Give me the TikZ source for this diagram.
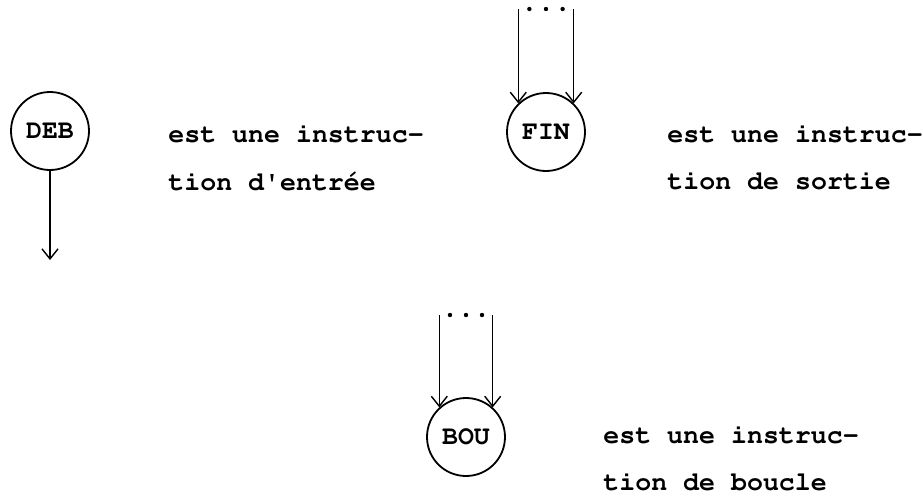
\documentclass[tikz,border=0pt]{standalone}
\usepackage[T1]{fontenc}
\renewcommand{\ttdefault}{pcr}
\usetikzlibrary{arrows.meta,calc}

\tikzset{
  instr/.style={circle, draw, line width=0.9pt, minimum size=39pt, inner sep=0pt,
    font=\ttfamily\bfseries\fontsize{13.3}{16}\selectfont},
  txt/.style={anchor=base west, inner sep=0pt, font=\ttfamily\bfseries\fontsize{13.3}{16}\selectfont},
  flow/.style={line width=0.7pt, -{Straight Barb[length=5pt,width=8pt]}},
  etc/.style={fill=black},
}

\begin{document}
\begin{tikzpicture}[x=0.5pt,y=-0.5pt]
    \useasboundingbox (0,0) rectangle (923,499);

    % Entry instruction: one arrow leaving the circle
    \node[instr] (deb) at (50,131) {DEB};
    \coordinate (debout) at (50,260);
    \draw[flow] (deb.south) -- (debout);
    \node[txt] (deb1) at (168,142) {est une instruc-};
    \node[txt] (deb2) at (168,190) {tion d\textquotesingle entr\'ee};

    % Exit instruction: several arrows coming in
    \node[instr] (fin) at (546,132) {FIN};
    \coordinate (finl) at (fin.134 |- 0,9);
    \coordinate (finr) at (fin.46 |- 0,9);
    \draw[flow] (finl) -- (fin.134);
    \draw[flow] (finr) -- (fin.46);
    \foreach \t in {0.2,0.5,0.8}
        \fill[etc] ($(finl)!\t!(finr)$) circle (1.1pt);
    \node[txt] (fin1) at (667,142) {est une instruc-};
    \node[txt] (fin2) at (667,189) {tion de sortie};

    % Loop instruction
    \node[instr] (bou) at (466,437) {BOU};
    \coordinate (boul) at (bou.132 |- 0,315);
    \coordinate (bour) at (bou.48 |- 0,315);
    \draw[flow] (boul) -- (bou.132);
    \draw[flow] (bour) -- (bou.48);
    \foreach \t in {0.2,0.5,0.8}
        \fill[etc] ($(boul)!\t!(bour)$) circle (1.1pt);
    \node[txt] (bou1) at (603,443) {est une instruc-};
    \node[txt] (bou2) at (603,490) {tion de boucle};
\end{tikzpicture}
\end{document}
